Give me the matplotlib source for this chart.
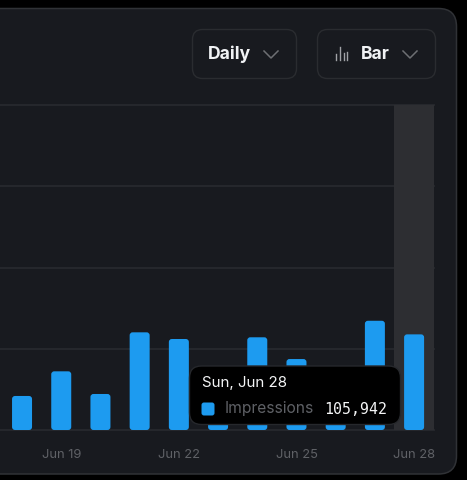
import matplotlib
matplotlib.use('Agg')
import matplotlib.pyplot as plt
from matplotlib.patches import FancyBboxPatch, Rectangle

W, H = 467, 480

days = ['Jun 18', 'Jun 19', 'Jun 20', 'Jun 21', 'Jun 22', 'Jun 23', 'Jun 24', 'Jun 25', 'Jun 26', 'Jun 27', 'Jun 28']
impressions = [37700, 65000, 39900, 108200, 100800, 52000, 102700, 78600, 48000, 121000, 105942]
tick_days = ['Jun 19', 'Jun 22', 'Jun 25', 'Jun 28']
grid_values = [0, 90000, 180000, 270000, 360000]
active_day = 'Jun 28'

BLUE = '#1d9bf0'
CARD = '#181a1f'
EDGE = '#2a2c30'
MUTED = '#5f6166'
FONT = ['Inter', 'DejaVu Sans']

plt.rcParams['font.family'] = FONT

fig = plt.figure(figsize=(W / 100, H / 100), dpi=100, facecolor='black')


def rounded(ax, x0, y0, x1, y1, r, **kw):
    p = FancyBboxPatch((x0, y0), x1 - x0, y1 - y0,
                       boxstyle='round,pad=0,rounding_size=%s' % r, **kw)
    ax.add_patch(p)
    return p


def pixel_axes(zorder):
    a = fig.add_axes([0, 0, 1, 1], zorder=zorder)
    a.set_xlim(0, W)
    a.set_ylim(H, 0)
    a.axis('off')
    a.patch.set_alpha(0)
    return a


# card and the two dropdown buttons
back = pixel_axes(0)
rounded(back, -40, 8.5, 456.5, 474, 18, fc=CARD, ec='#303236', lw=1.1)
rounded(back, 192.5, 29.5, 296.5, 78.5, 10, fc=CARD, ec=EDGE, lw=1)
rounded(back, 317.5, 29.5, 435.5, 78.5, 10, fc=CARD, ec=EDGE, lw=1)
back.text(208, 54.5, 'Daily', color='#f1f3f5', fontsize=12.6, fontweight='bold', va='center')
back.text(361, 54.5, 'Bar', color='#f1f3f5', fontsize=12.6, fontweight='bold', va='center')
for cx in (271, 410):
    back.plot([cx - 7, cx, cx + 7], [51, 58, 51], color='#6d6f73', lw=1.1)
for bx, top in zip((336, 340, 343.5, 347), (54, 47, 53, 52)):
    back.plot([bx, bx], [top, 60], color='#a0a2a6', lw=1)

# bar chart, y runs 0..360000 over 325 px, x is the day index
left, right, top, bottom = 0, 433.7, 105, 430
ax = fig.add_axes([left / W, 1 - bottom / H, (right - left) / W, (bottom - top) / H], zorder=1)
ax.patch.set_alpha(0)
ax.set_xlim(-0.562, 10.5)
ax.set_ylim(0, grid_values[-1])
for s in ax.spines.values():
    s.set_visible(False)

xs = list(range(len(days)))
for g in grid_values:
    ax.axhline(g, color='#27292e', lw=1.3, zorder=1, clip_on=False)

active = days.index(active_day)
ax.add_patch(Rectangle((active - 0.5, 0), 1, grid_values[-1], fc='#2d2e32', ec='none', zorder=1.5))

px_x = (right - left) / (ax.get_xlim()[1] - ax.get_xlim()[0])
px_y = (bottom - top) / grid_values[-1]
bar_w = 20 / px_x
for x, v in zip(xs, impressions):
    ax.add_patch(FancyBboxPatch((x - bar_w / 2, 0), bar_w, v,
                                boxstyle='round,pad=0,rounding_size=%s' % (3 / px_x),
                                mutation_aspect=px_x / px_y,
                                fc=BLUE, ec='none', zorder=3, clip_on=False))

ax.set_yticks([])
ax.set_xticks([days.index(d) for d in tick_days])
ax.set_xticklabels(tick_days, color=MUTED, fontsize=9.3)
ax.tick_params(axis='x', length=0, pad=14)

# tooltip on the active bar
over = pixel_axes(2)
rounded(over, 189.5, 366, 400.5, 424.5, 12, fc='black', ec='#26282c', lw=1)
over.text(202, 382.5, 'Sun, Jun 28', color='#f4f5f6', fontsize=10.9, va='center')
rounded(over, 201.5, 402.5, 214.5, 415.5, 2.5, fc=BLUE, ec='none')
over.text(224.5, 409, 'Impressions', color='#5f6166', fontsize=11.2, va='center')
over.text(387.5, 409, format(impressions[active], ','), color='#f4f5f6', fontsize=10.7, va='center', ha='right',
          family=['DejaVu Sans Mono'])

fig.savefig('out.png', dpi=100, facecolor=fig.get_facecolor())
